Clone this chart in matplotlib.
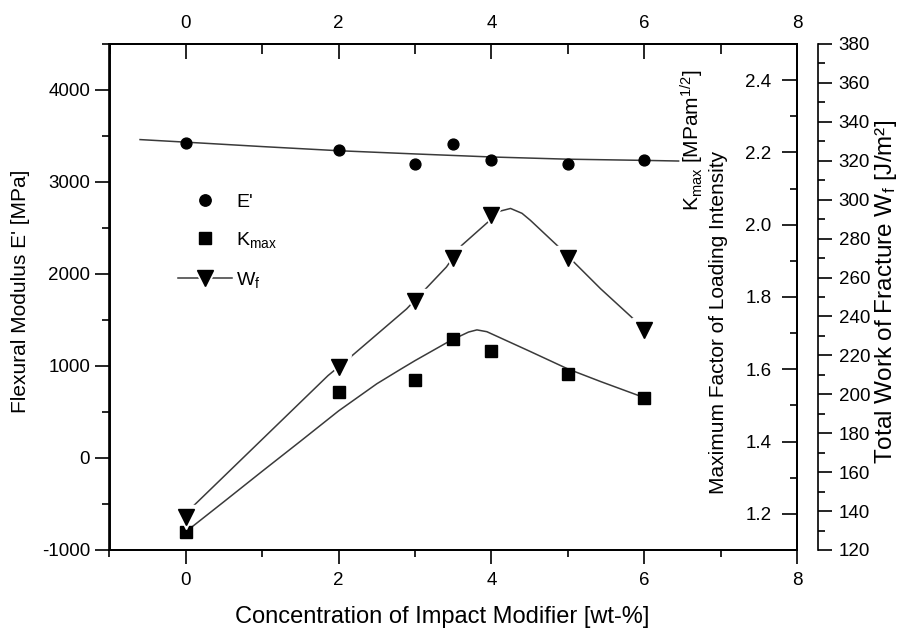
import matplotlib
matplotlib.use('Agg')
import matplotlib.pyplot as plt
from matplotlib.ticker import MultipleLocator, FormatStrFormatter
from matplotlib.lines import Line2D
from matplotlib.legend_handler import HandlerTuple

plt.rcParams['font.family'] = ['Liberation Sans', 'DejaVu Sans']
plt.rcParams['mathtext.fontset'] = 'custom'
plt.rcParams['mathtext.rm'] = 'Liberation Sans'
plt.rcParams['mathtext.it'] = 'Liberation Sans:italic'
plt.rcParams['mathtext.bf'] = 'Liberation Sans:bold'
plt.rcParams['axes.unicode_minus'] = False

# ---- data ----
conc = [0, 2, 3, 3.5, 4, 5, 6]
e_mod = [3428, 3344, 3199, 3417, 3243, 3199, 3243]
k_max = [1.149, 1.538, 1.570, 1.684, 1.651, 1.587, 1.520]
w_f = [137, 214, 248, 270, 292, 270, 233]

e_fit_x = [-0.6, 0, 1, 2, 3, 4, 5, 6, 6.45]
e_fit_y = [3461, 3433, 3385, 3340, 3305, 3272, 3248, 3235, 3228]
k_fit_x = [0.08, 0.5, 1, 1.5, 2, 2.5, 2.81, 3, 3.46, 3.7, 3.81, 3.94, 4.5, 5, 5.43, 5.97]
k_fit_y = [1.164, 1.234, 1.318, 1.401, 1.485, 1.56, 1.60, 1.624, 1.679, 1.703, 1.709,
           1.704, 1.650, 1.601, 1.566, 1.524]
w_fit_x = [0.1, 1.86, 2.15, 2.89, 3.41, 3.61, 3.98, 4.1, 4.25, 4.4, 4.51, 4.86, 5.43, 5.93]
w_fit_y = [142.7, 209.6, 219, 243.9, 265.4, 276.5, 289.4, 294, 295.5, 293, 289.4,
           276.5, 254.2, 236.2]

x_ticks = [0, 2, 4, 6, 8]
e_ticks = [-1000, 0, 1000, 2000, 3000, 4000]
k_ticks = [1.2, 1.4, 1.6, 1.8, 2.0, 2.2, 2.4]
w_ticks = list(range(120, 381, 20))

W, H = 904, 630
fig = plt.figure(figsize=(W / 100, H / 100), dpi=100)
L, R, B, T = 109.5 / W, 797 / W, 1 - 550 / H, 1 - 44 / H
ax = fig.add_axes([L, B, R - L, T - B])

line_col = '#3a3a3a'
tick_fs = 13.5
lw_sp = 1.2

# ---- left axis (E') ----
ax.set_xlim(-1, 8)
ax.set_ylim(-1000, 4500)
ax.set_xticks(x_ticks)
ax.xaxis.set_minor_locator(MultipleLocator(1))
ax.set_yticks(e_ticks)
ax.yaxis.set_minor_locator(MultipleLocator(500))
ax.tick_params(which='major', direction='out', length=10, width=lw_sp, labelsize=tick_fs)
ax.tick_params(which='minor', direction='out', length=5, width=lw_sp)
ax.tick_params(axis='x', which='major', pad=6)
ax.tick_params(axis='y', which='major', pad=4)
ax.tick_params(top=False, right=False, which='both')
for s in ax.spines.values():
    s.set_linewidth(lw_sp)

ax.plot(e_fit_x, e_fit_y, '-', color=line_col, lw=1.1, zorder=2)
ax.plot(conc, e_mod, 'o', color='k', ms=7.8, zorder=3)

# ---- top axis ----
axt = ax.twiny()
axt.set_xlim(-1, 8)
axt.set_xticks(x_ticks)
axt.xaxis.set_minor_locator(MultipleLocator(1))
axt.tick_params(which='major', direction='in', length=11, width=lw_sp, labelsize=tick_fs, pad=9)
axt.tick_params(which='minor', direction='in', length=7, width=lw_sp)
for s in axt.spines.values():
    s.set_linewidth(lw_sp)

# ---- K axis (right spine, labels inside) ----
axk = ax.twinx()
axk.set_ylim(1.1, 2.5)
axk.set_yticks(k_ticks)
axk.yaxis.set_major_formatter(FormatStrFormatter('%.1f'))
axk.yaxis.set_minor_locator(MultipleLocator(0.1))
axk.tick_params(which='major', direction='in', length=11, width=lw_sp, labelsize=tick_fs, pad=-18.5)
axk.tick_params(which='minor', direction='in', length=5, width=lw_sp)
for t in axk.get_yticklabels():
    t.set_horizontalalignment('right')
for s in axk.spines.values():
    s.set_linewidth(lw_sp)
axk.plot(k_fit_x, k_fit_y, '-', color=line_col, lw=1.1, zorder=2)
axk.plot(conc, k_max, 's', color='k', ms=8.2, zorder=3)

# ---- W axis (offset spine) ----
axw = ax.twinx()
axw.set_ylim(120, 380)
axw.spines['right'].set_position(('axes', (818 - 109.5) / (797 - 109.5)))
for side in ('left', 'top', 'bottom'):
    axw.spines[side].set_visible(False)
axw.spines['right'].set_linewidth(lw_sp)
axw.set_yticks(w_ticks)
axw.yaxis.set_minor_locator(MultipleLocator(10))
axw.tick_params(which='major', direction='out', length=10, width=lw_sp, labelsize=tick_fs, pad=5)
axw.tick_params(which='minor', direction='out', length=5, width=lw_sp)
axw.plot(w_fit_x, w_fit_y, '-', color=line_col, lw=1.1, zorder=2)
axw.plot(conc, w_f, 'v', color='white', ms=17, zorder=3)
axw.plot(conc, w_f, 'v', color='k', ms=11.5, zorder=4)

# ---- legend ----
h_e = Line2D([], [], ls='none', marker='o', color='k', ms=8.2)
h_k = Line2D([], [], ls='none', marker='s', color='k', ms=8.2)
h_wl = Line2D([], [], ls='-', color=line_col, lw=1.1)
h_ww = Line2D([], [], ls='none', marker='v', color='white', ms=17)
h_wk = Line2D([], [], ls='none', marker='v', color='k', ms=11.5)
leg = axw.legend([h_e, h_k, (h_wl, h_ww, h_wk)],
                 ["E'", r'K$_{\rm max}$', r'W$_{\rm f}$'],
                 handler_map={tuple: HandlerTuple(ndivide=1)},
                 loc='upper left', bbox_to_anchor=(178 / W, 1 - 193 / H),
                 bbox_transform=fig.transFigure, frameon=False, fontsize=14,
                 handlelength=2.8, handletextpad=0.2, labelspacing=1.0,
                 borderpad=0, borderaxespad=0, numpoints=1)

# ---- axis titles ----
fig.text(442 / W, 1 - 617 / H, 'Concentration of Impact Modifier [wt-%]',
         ha='center', va='center', fontsize=17)
fig.text(21 / W, 1 - 291 / H, "Flexural Modulus E' [MPa]", rotation=90,
         ha='center', va='center', fontsize=15)
fig.text(719 / W, 1 - 322 / H, 'Maximum Factor of Loading Intensity', rotation=90,
         ha='center', va='center', fontsize=15)
fig.text(692 / W, 1 - 140 / H, r'K$_{\rm max}$ [MPam$^{1/2}$]', rotation=90,
         ha='center', va='center', fontsize=15)
fig.text(886 / W, 1 - 292 / H, r'Total Work of Fracture W$_{\rm f}$ [J/m²]', rotation=90,
         ha='center', va='center', fontsize=17.5)

fig.savefig('out.png', dpi=100)
